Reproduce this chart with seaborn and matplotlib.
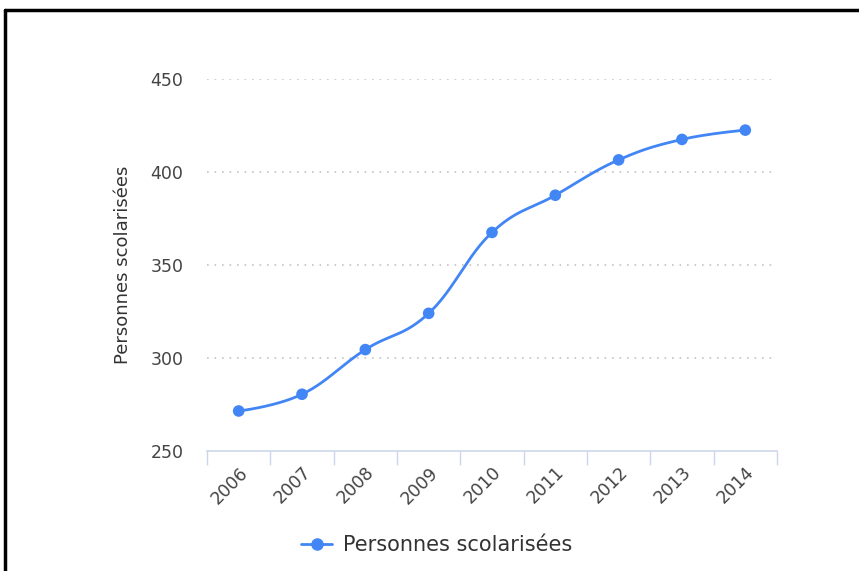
import numpy as np
import pandas as pd
import seaborn as sns
import matplotlib.pyplot as plt
from matplotlib.lines import Line2D

annees = ['2006', '2007', '2008', '2009', '2010', '2011', '2012', '2013', '2014']
personnes = [271.5, 280.5, 304.5, 324, 367.5, 387.5, 406.5, 417.5, 422.5]
yticks = [250, 300, 350, 400, 450]

bleu = '#4285f4'
gris_axe = '#ccd6eb'


def spline(xs, ys, smoothing=1.5, n=30):
    # courbe lissee facon highcharts (bezier cubiques)
    xs = np.asarray(xs, float)
    ys = np.asarray(ys, float)
    k = len(xs)
    left = [(xs[i], ys[i]) for i in range(k)]
    right = [(xs[i], ys[i]) for i in range(k)]
    for i in range(1, k - 1):
        lx = (smoothing * xs[i] + xs[i - 1]) / (smoothing + 1)
        ly = (smoothing * ys[i] + ys[i - 1]) / (smoothing + 1)
        rx = (smoothing * xs[i] + xs[i + 1]) / (smoothing + 1)
        ry = (smoothing * ys[i] + ys[i + 1]) / (smoothing + 1)
        corr = (ry - ly) * (rx - xs[i]) / (rx - lx) + ys[i] - ry
        ly += corr
        ry += corr
        lo, hi = min(ys[i - 1], ys[i]), max(ys[i - 1], ys[i])
        if ly > hi:
            ly = hi
            ry = 2 * ys[i] - ly
        elif ly < lo:
            ly = lo
            ry = 2 * ys[i] - ly
        lo, hi = min(ys[i + 1], ys[i]), max(ys[i + 1], ys[i])
        if ry > hi:
            ry = hi
            ly = 2 * ys[i] - ry
        elif ry < lo:
            ry = lo
            ly = 2 * ys[i] - ry
        left[i] = (lx, ly)
        right[i] = (rx, ry)
    px, py = [], []
    t = np.linspace(0, 1, n)
    for i in range(k - 1):
        p0 = np.array([xs[i], ys[i]])
        p1 = np.array(right[i])
        p2 = np.array(left[i + 1])
        p3 = np.array([xs[i + 1], ys[i + 1]])
        pts = ((1 - t) ** 3)[:, None] * p0 + (3 * (1 - t) ** 2 * t)[:, None] * p1 \
            + (3 * (1 - t) * t ** 2)[:, None] * p2 + (t ** 3)[:, None] * p3
        px.extend(pts[:, 0])
        py.extend(pts[:, 1])
    return np.array(px), np.array(py)


sns.set_theme(style='white')
plt.rcParams['font.family'] = ['DejaVu Sans']

df = pd.DataFrame({'annee': annees, 'valeur': personnes, 'pos': range(len(annees))})
sx, sy = spline(df['pos'], df['valeur'])

fig = plt.figure(figsize=(8.59, 5.71), dpi=100)
ax = fig.add_axes([0.241, 0.2102, 0.6635, 0.6515])

ax.plot(sx, sy, color=bleu, lw=2, solid_capstyle='round', zorder=3)
sns.scatterplot(data=df, x='pos', y='valeur', ax=ax, color=bleu, s=70,
                edgecolor='none', zorder=4, legend=False)

ax.set_xlim(-0.5, len(annees) - 0.5)
ax.set_ylim(250, 450)
ax.set_yticks(yticks)
ax.set_yticklabels([str(v) for v in yticks], fontsize=12.5, color='#444444')
for v in yticks[1:]:
    ax.axhline(v, color='#c4c4c4', lw=1.2, ls=(0, (1, 3.5)), zorder=1)

ax.set_xticks(range(len(annees)))
ax.set_xticklabels(annees, rotation=45, ha='right', rotation_mode='anchor',
                   fontsize=12.5, color='#444444')
ax.set_xticks(np.arange(-0.5, len(annees)), minor=True)
ax.tick_params(axis='x', which='major', bottom=False, length=0, pad=9)
ax.tick_params(axis='x', which='minor', bottom=True, length=10, width=1,
               color=gris_axe, direction='out')
ax.tick_params(axis='y', left=False, length=0, pad=17)

for s in ['top', 'right', 'left']:
    ax.spines[s].set_visible(False)
ax.spines['bottom'].set_color(gris_axe)
ax.spines['bottom'].set_linewidth(1.2)

ax.set_xlabel('')
ax.set_ylabel('Personnes scolarisées', fontsize=13, color='#333333', labelpad=13)

poignee = Line2D([], [], color=bleu, lw=2, marker='o', markersize=8)
fig.legend([poignee], ['Personnes scolarisées'], loc='center',
           bbox_to_anchor=(0.508, 0.045), frameon=False, fontsize=15,
           handlelength=1.5, handletextpad=0.5, labelcolor='#333333')

# cadre noir en haut et a gauche
fig.add_artist(Line2D([0.006, 1.0], [0.982, 0.982], color='black', lw=2.5))
fig.add_artist(Line2D([0.006, 0.006], [0.0, 0.982], color='black', lw=2.5))

fig.savefig('out.png', dpi=100)
